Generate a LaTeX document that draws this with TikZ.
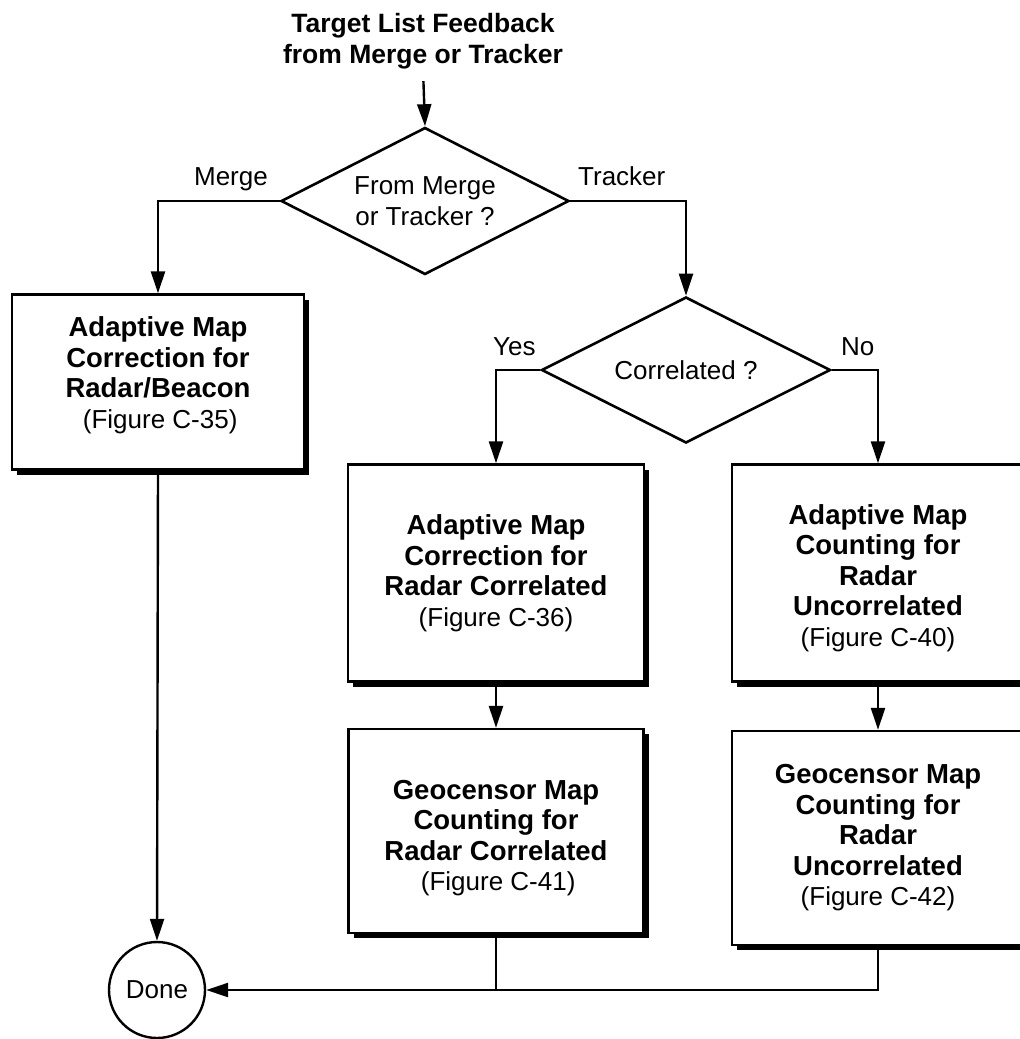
\documentclass[tikz,border=0pt]{standalone}
\usepackage{fontspec}
\setmainfont{Liberation Sans}
\usetikzlibrary{shapes.geometric,arrows.meta,shadows}
\newcommand{\bx}[1]{{\fontsize{27.5}{30.5}\selectfont\bfseries #1}}
\begin{document}
\begin{tikzpicture}[x=1pt,y=-1pt,
  every node/.style={font=\fontsize{26}{30.5}\selectfont},
  conn/.style={line width=2.4pt},
  arr/.style={conn,-{Triangle[length=22pt,width=14pt]}},
  procbox/.style={draw,line width=2.4pt,fill=white,rectangle,align=center,inner sep=0pt,
     general shadow={fill=black,shadow xshift=5pt,shadow yshift=-5pt}},
  decis/.style={draw,diamond,line width=2.6pt,aspect=2,inner sep=0pt,align=center,
     font=\fontsize{26}{31}\selectfont},
  lbl/.style={inner sep=0pt}
]
\useasboundingbox (0,0) rectangle (1020,1039);
\clip (0,0) rectangle (1020,1039);
\fill[white] (0,0) rectangle (1020,1039);

\node[font=\bfseries\fontsize{26.5}{31}\selectfont, align=center, inner sep=0pt] (title) at (423,41)
  {Target List Feedback\\from Merge or Tracker};

\node[decis, minimum width=288pt, minimum height=147pt] (d1) at (425,201) {From Merge\\or Tracker ?};
\node[decis, minimum width=289pt, minimum height=146pt] (d2) at (686,370) {Correlated ?};

\node[procbox, minimum width=292pt, minimum height=175pt] (b1) at (158,382)
  {\bx{Adaptive Map}\\\bx{Correction for}\\\bx{Radar/Beacon}\\\,(Figure C-35)\rule[-19pt]{0pt}{1pt}};
\node[procbox, minimum width=296pt, minimum height=217pt] (b2) at (496,573)
  {\bx{Adaptive Map}\\\bx{Correction for}\\\bx{Radar Correlated}\\(Figure C-36)};
\node[procbox, minimum width=292pt, minimum height=217pt] (b3) at (878,573)
  {\bx{\rule{0pt}{30pt}Adaptive Map}\\\bx{Counting for}\\\bx{Radar}\\\bx{Uncorrelated}\\(Figure C-40)};
\node[procbox, minimum width=295pt, minimum height=204pt] (b4) at (496,831)
  {\bx{\rule{0pt}{33pt}Geocensor Map}\\\bx{Counting for}\\\bx{Radar Correlated}\\\,(Figure C-41)};
\node[procbox, minimum width=292pt, minimum height=214pt] (b5) at (878,838)
  {\bx{Geocensor Map}\\\bx{Counting for}\\\bx{Radar}\\\bx{Uncorrelated}\\(Figure C-42)};
\node[draw, circle, line width=2.4pt, minimum size=96pt, inner sep=0pt] (done) at (157,990) {Done};

\node[lbl, anchor=base east] (lmerge) at (268,185) {Merge};
\node[lbl, anchor=base west] (ltrack) at (578,185) {Tracker};
\node[lbl, anchor=base west] (lyes) at (493,355) {Yes};
\node[lbl, anchor=base west] (lno) at (841,355) {No};

\draw[arr, shorten <=12pt] (title.south) -- (d1.north);
\draw[arr] (d1.west) -| (b1.north);
\draw[arr] (d1.east) -| (d2.north);
\draw[arr] (d2.west) -| (b2.north);
\draw[arr] (d2.east) -| (b3.north);
\draw[arr] (b2.south) -- (b4.north);
\draw[arr] (b3.south) -- (b5.north);
\draw[arr] (b1.south) -- (done.north);
\draw[arr] (b5.south) |- (done.east);
\draw[conn] (b4.south) -- (b4.south |- done.east);
\end{tikzpicture}
\end{document}
